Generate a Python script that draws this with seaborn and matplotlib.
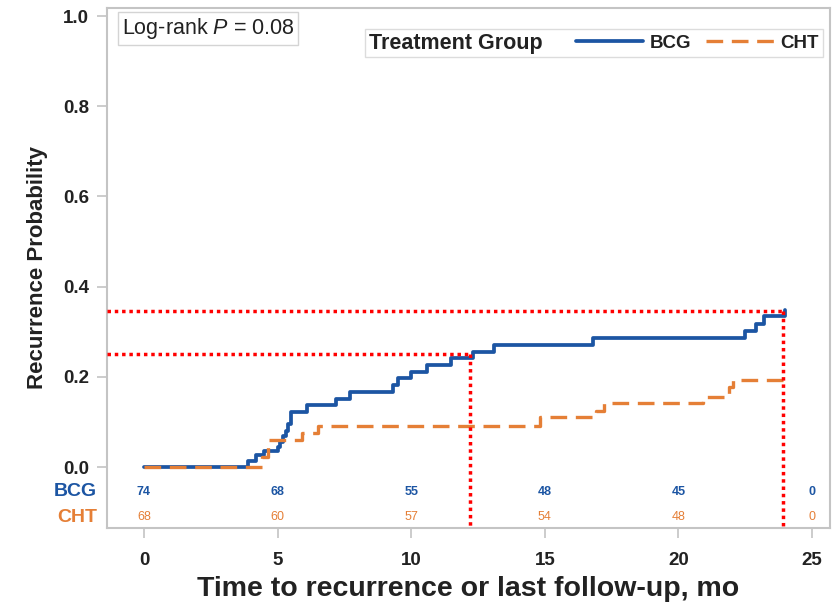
import matplotlib
matplotlib.use("Agg")
import matplotlib.pyplot as plt
import seaborn as sns
import pandas as pd
from matplotlib.lines import Line2D
from matplotlib.offsetbox import HPacker
import matplotlib.transforms as mtransforms

# Kaplan-Meier style cumulative recurrence
bcg_time = [0, 3.9, 4.2, 4.5, 5.0, 5.1, 5.2, 5.3, 5.4, 5.5, 6.1, 7.2, 7.7,
            9.3, 9.5, 10.0, 10.6, 11.5, 12.3, 13.1, 16.8, 22.5, 22.9, 23.2, 24.0]
bcg_prob = [0, 0.014, 0.027, 0.035, 0.045, 0.055, 0.068, 0.080, 0.095, 0.122,
            0.137, 0.152, 0.167, 0.182, 0.197, 0.211, 0.226, 0.241, 0.256,
            0.270, 0.287, 0.302, 0.318, 0.335, 0.349]

cht_time = [0, 4.4, 4.65, 5.9, 6.5, 14.8, 16.9, 17.2, 20.9, 21.9, 22.05, 24.0]
cht_prob = [0, 0.023, 0.061, 0.075, 0.091, 0.110, 0.125, 0.143, 0.156, 0.177,
            0.194, 0.196]

# numbers at risk
risk_times = [0, 5, 10, 15, 20, 25]
bcg_at_risk = [74, 68, 55, 48, 45, 0]
cht_at_risk = [68, 60, 57, 54, 48, 0]

# reference lines (red dotted guides)
ref_y = [0.25, 0.345]
ref_x = [12.2, 23.9]

BLUE = "#1c55a3"
ORANGE = "#e57f36"
GRAY = "#c4c4c4"

sns.set_theme(style="white")
plt.rcParams["font.family"] = ["Liberation Sans", "DejaVu Sans"]
plt.rcParams["mathtext.fontset"] = "custom"
plt.rcParams["mathtext.it"] = "Liberation Sans:italic"
plt.rcParams["mathtext.rm"] = "Liberation Sans"

fig = plt.figure(figsize=(8.39, 6.08), dpi=100)
ax = fig.add_axes([0.1275, 0.1316, 0.8618, 0.8553])

bcg_df = pd.DataFrame({"time": bcg_time, "prob": bcg_prob})
cht_df = pd.DataFrame({"time": cht_time, "prob": cht_prob})

sns.lineplot(data=bcg_df, x="time", y="prob", ax=ax, color=BLUE, lw=2.7,
             drawstyle="steps-post", estimator=None, zorder=2)
sns.lineplot(data=cht_df, x="time", y="prob", ax=ax, color=ORANGE, lw=2.4,
             drawstyle="steps-post", estimator=None, zorder=3,
             linestyle=(0, (5, 2.6)))

ax.set_xlim(-1.385, 25.67)
ax.set_ylim(-0.135, 1.018)

# red dotted guides
red_kw = dict(color="red", lw=2.5, linestyle=(0, (1, 1.1)),
              dash_capstyle="butt", zorder=5)
for yv, xv in zip(ref_y, ref_x):
    ax.plot([-1.385, xv], [yv, yv], **red_kw)
    ax.plot([xv, xv], [yv, -0.135], **red_kw)

# number at risk rows
row_y = [-0.055, -0.111]
for t, nb, nc in zip(risk_times, bcg_at_risk, cht_at_risk):
    ax.text(t, row_y[0], str(nb), color=BLUE, fontsize=9, fontweight="bold",
            ha="center", va="center")
    ax.text(t, row_y[1], str(nc), color=ORANGE, fontsize=9,
            ha="center", va="center")
trans = mtransforms.blended_transform_factory(ax.transAxes, ax.transData)
ax.text(-0.014, row_y[0], "BCG", color=BLUE, fontsize=14, fontweight="bold",
        ha="right", va="center", transform=trans)
ax.text(-0.014, row_y[1], "CHT", color=ORANGE, fontsize=14, fontweight="bold",
        ha="right", va="center", transform=trans)

ax.set_xticks([0, 5, 10, 15, 20, 25])
ax.set_yticks([0.0, 0.2, 0.4, 0.6, 0.8, 1.0])
ax.set_yticklabels(["0.0", "0.2", "0.4", "0.6", "0.8", "1.0"])
ax.tick_params(axis="both", which="major", direction="out", length=7,
               width=1.2, color=GRAY, labelsize=13.5,
               bottom=True, left=True)
ax.tick_params(axis="x", pad=10)
ax.tick_params(axis="y", pad=6)
for lab in ax.get_xticklabels() + ax.get_yticklabels():
    lab.set_fontweight("bold")
    lab.set_color("#222222")

ax.set_xlabel("Time to recurrence or last follow-up, mo", fontsize=20.5,
              fontweight="bold", color="#222222", labelpad=5)
ax.set_ylabel("Recurrence Probability", fontsize=16, fontweight="bold",
              color="#222222", labelpad=11)

for sp in ax.spines.values():
    sp.set_color(GRAY)
    sp.set_linewidth(1.5)

# log-rank box
ax.text(0.0207, 0.9606, "Log-rank $\\mathit{P}$ = 0.08", transform=ax.transAxes,
        fontsize=15.5, color="#222222", ha="left", va="center",
        bbox=dict(boxstyle="square,pad=0.18", fc="white", ec="#d4d4d4", lw=1))

# legend with the title on the left
handles = [Line2D([], [], color=BLUE, lw=2.7),
           Line2D([], [], color=ORANGE, lw=2.4, linestyle=(0, (5, 2.6)))]
leg = ax.legend(handles, ["BCG", "CHT"], ncol=2, loc="upper right",
                bbox_to_anchor=(0.990, 0.96), borderaxespad=0,
                title="Treatment Group", fancybox=False, frameon=True,
                handlelength=3.6, handletextpad=0.35, columnspacing=0.8,
                borderpad=0.2,
                prop={"weight": "bold", "size": 13.5},
                title_fontproperties={"weight": "bold", "size": 15.5})
leg.get_frame().set_edgecolor("#d4d4d4")
leg.get_frame().set_linewidth(1)
for txt in leg.get_texts():
    txt.set_color("#222222")
leg.get_title().set_color("#222222")
old_box = leg._legend_box
leg._legend_box = HPacker(pad=old_box.pad, sep=24, align="center",
                          children=[leg._legend_title_box,
                                    leg._legend_handle_box])
leg._legend_box.set_figure(fig)
leg._legend_box.axes = ax
leg._legend_box.set_offset(leg._findoffset)

fig.savefig("out.png", dpi=100)
